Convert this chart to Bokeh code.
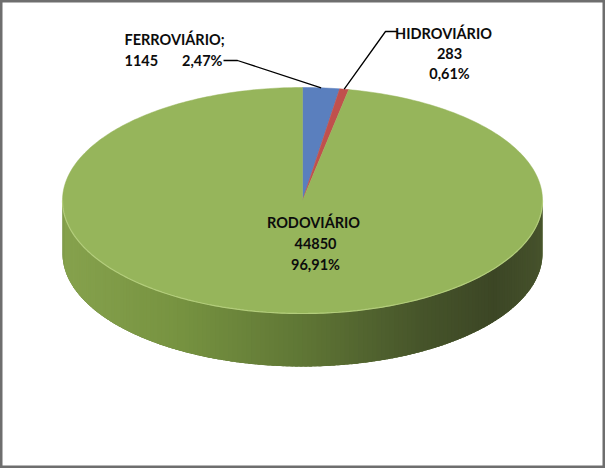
import numpy as np
from bokeh.plotting import figure
from bokeh.models import Range1d, ColumnDataSource
from bokeh.core.properties import value
from bokeh.embed import file_html
from bokeh.resources import INLINE

# Transport mode shares (tonnage)
categories = ["FERROVIÁRIO", "HIDROVIÁRIO", "RODOVIÁRIO"]
values = [1145, 283, 44850]
colors = ["#5a7fbe", "#c0504d", "#96b55b"]

W, H = 605, 468
CX, CY = 302.0, 200.0      # centre of the top face
A, B = 240.0, 113.0        # ellipse semi-axes
DEPTH = 53.0               # thickness of the disc
FONT = value("Lato")

p = figure(width=W, height=H, output_backend="svg", toolbar_location=None,
           x_range=Range1d(0, W), y_range=Range1d(H, 0), min_border=0)
p.axis.visible = False
p.grid.visible = False
p.background_fill_color = "white"
p.border_fill_color = "white"
p.outline_line_color = "#6e6e6e"
p.outline_line_width = 4


def rim(phi):
    """Point on the top ellipse; phi measured clockwise from 12 o'clock."""
    return CX + A * np.sin(phi), CY - B * np.cos(phi)


# ---- side wall of the disc (front half), shaded strip by strip ----
shade_pos = np.array([-1.0, -0.5, 0.0, 0.5, 0.8, 1.0])
shade_rgb = np.array([
    [0x86, 0xa2, 0x4d],
    [0x76, 0x92, 0x40],
    [0x5f, 0x76, 0x35],
    [0x46, 0x54, 0x2a],
    [0x3c, 0x46, 0x25],
    [0x46, 0x52, 0x2c],
])

# solid base of the wall so no background shows between strips
tb = np.linspace(np.pi / 2, 3 * np.pi / 2, 300)
bx, by = rim(tb)
p.patch(list(bx) + list(bx[::-1]), list(by) + list((by + DEPTH)[::-1]),
        fill_color="#5f7635", line_color=None)

n_strips = 160
t_edges = np.linspace(np.pi / 2, 3 * np.pi / 2, n_strips + 1)
step = t_edges[1] - t_edges[0]
side_xs, side_ys, side_col = [], [], []
for t1, t2 in zip(t_edges[:-1], t_edges[1:]):
    t2o = min(t2 + 0.6 * step, 3 * np.pi / 2)  # slight overlap
    x1, y1 = rim(t1)
    x2, y2 = rim(t2o)
    side_xs.append([x1, x2, x2, x1])
    side_ys.append([y1, y2, y2 + DEPTH, y1 + DEPTH])
    u = np.sin(0.5 * (t1 + t2))
    rgb = [np.interp(u, shade_pos, shade_rgb[:, k]) for k in range(3)]
    side_col.append("#%02x%02x%02x" % tuple(int(round(c)) for c in rgb))
p.patches(xs="xs", ys="ys", fill_color="c", line_color=None,
          source=ColumnDataSource(dict(xs=side_xs, ys=side_ys, c=side_col)))

# ---- top face wedges ----
total = float(sum(values))
fracs = [v / total for v in values]
starts = np.concatenate([[0.0], np.cumsum(fracs)[:-1]]) * 2 * np.pi
ends = np.cumsum(fracs) * 2 * np.pi
wx, wy = [], []
for s, e in zip(starts, ends):
    ph = np.linspace(s, e, max(4, int((e - s) / (2 * np.pi) * 400)))
    ex, ey = rim(ph)
    wx.append([CX] + list(ex))
    wy.append([CY] + list(ey))
p.patches(xs="xs", ys="ys", fill_color="c", line_color="c", line_width=0.5,
          source=ColumnDataSource(dict(xs=wx, ys=wy, c=colors)))

# light rim where the top face meets the wall
ph = np.linspace(np.pi / 2, 3 * np.pi / 2, 200)
rx, ry = rim(ph)
p.line(rx, ry, line_color="#b3cd7c", line_width=1.2)

# ---- labels ----
def pct(v):
    return ("%.2f" % (v / total * 100)).replace(".", ",") + "%"

mid = 0.5 * (starts + ends)
ax0, ay0 = rim(mid[0])
ax1, ay1 = rim(mid[1])

# leader lines
p.line([223, 237, ax0], [60, 60, ay0], line_color="black", line_width=1.3)
p.line([397, 385, ax1], [31, 31, ay1], line_color="black", line_width=1.3)

txt = dict(text_font=FONT, text_font_size="14.5px", text_font_style="bold",
           text_color="#0c0c0c", text_baseline="alphabetic")

# FERROVIÁRIO
p.text(x=[124], y=[39], text=[categories[0] + ";"], text_align="left", **txt)
p.text(x=[124], y=[60], text=[str(values[0])], text_align="left", **txt)
p.text(x=[222], y=[60], text=[pct(values[0])], text_align="right", **txt)

# HIDROVIÁRIO
p.text(x=[443], y=[33], text=[categories[1]], text_align="center", **txt)
p.text(x=[449], y=[53], text=[str(values[1])], text_align="center", **txt)
p.text(x=[449], y=[73], text=[pct(values[1])], text_align="center", **txt)

# RODOVIÁRIO
p.text(x=[313], y=[222], text=[categories[2]], text_align="center", **txt)
p.text(x=[315], y=[243], text=[str(values[2])], text_align="center", **txt)
p.text(x=[315], y=[264], text=[pct(values[2])], text_align="center", **txt)

open("out.html", "w").write(file_html(p, INLINE))
